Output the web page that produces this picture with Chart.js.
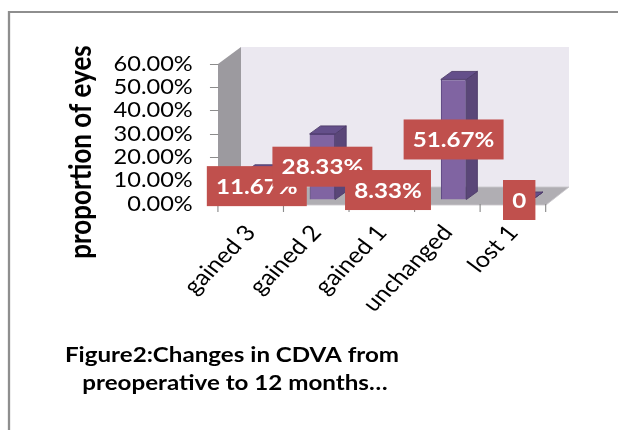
<!DOCTYPE html>
<html>
<head>
<meta charset="utf-8">
<style>
  html, body { margin: 0; padding: 0; background: #ffffff; }
  canvas { display: block; }
</style>
<script src="https://cdn.jsdelivr.net/npm/chart.js@4/dist/chart.umd.min.js"></script>
</head>
<body>
<canvas id="c" width="618" height="430" style="width:618px;height:430px"></canvas>
<script>
// ---- data ----
const categories = ['gained 3', 'gained 2', 'gained 1', 'unchanged', 'lost 1'];
const proportions = [11.67, 28.33, 8.33, 51.67, 0];
const yTickLabels = ['0.00%', '10.00%', '20.00%', '30.00%', '40.00%', '50.00%', '60.00%'];
const yAxisTitle = 'proportion of eyes';
const figureTitle = ['Figure2:Changes in CDVA from', ' preoperative to 12 months\u2026'];

// ---- styling / geometry (final pixels are divided by S for x) ----
const S = 1.15;                       // horizontal stretch of the whole picture
const BAR_SHIFT = { x: 6 / S, y: -4 }; // bars sit a bit inside the 3D box
const BAR_DEPTH = { x: 11 / S, y: -8 };
const WALL_DEPTH = { x: 23 / S, y: -17 };
const LABEL_PAD = 8;
const LABEL_H = 40;
const FONT = 'Lato, "Open Sans", sans-serif';

function poly(ctx, pts, fill, stroke) {
  ctx.beginPath();
  ctx.moveTo(pts[0][0], pts[0][1]);
  for (let i = 1; i < pts.length; i++) ctx.lineTo(pts[i][0], pts[i][1]);
  ctx.closePath();
  ctx.fillStyle = fill;
  ctx.fill();
  if (stroke) { ctx.strokeStyle = stroke; ctx.lineWidth = 0.8; ctx.stroke(); }
}

function labelFor(v) { return v === 0 ? '0' : v.toFixed(2) + '%'; }

const excel3d = {
  id: 'excel3d',
  beforeDraw(chart) {
    const ctx = chart.ctx;
    ctx.save();
    ctx.scale(S, 1);
    ctx.fillStyle = '#ffffff';
    ctx.fillRect(0, 0, chart.width, chart.height);
    // outer frame
    ctx.strokeStyle = '#8e8e8e';
    ctx.lineWidth = 2;
    ctx.beginPath();
    ctx.moveTo(9 / S, 440);
    ctx.lineTo(9 / S, 12);
    ctx.lineTo(chart.width, 12);
    ctx.stroke();
    // walls and floor
    const a = chart.chartArea, ys = chart.scales.y;
    const L = a.left, R = a.right;
    const T = ys.getPixelForValue(ys.max), B = ys.getPixelForValue(0);
    const dx = WALL_DEPTH.x, dy = WALL_DEPTH.y;
    poly(ctx, [[L + dx, T + dy], [R + dx, T + dy], [R + dx, B + dy], [L + dx, B + dy]], '#ebe8f0');
    poly(ctx, [[L, T], [L + dx, T + dy], [L + dx, B + dy], [L, B]], '#9c9a9f');
    poly(ctx, [[L, B + 1], [L + dx, B + dy], [R + dx, B + dy], [R, B + 1]], '#b0aeb3', '#c9c7cc');
  },
  beforeDatasetsDraw(chart) {
    const ctx = chart.ctx;
    ctx.save();
    ctx.translate(BAR_SHIFT.x, BAR_SHIFT.y);
  },
  afterDatasetsDraw(chart) {
    const ctx = chart.ctx;
    const meta = chart.getDatasetMeta(0);
    const dx = BAR_DEPTH.x, dy = BAR_DEPTH.y;
    meta.data.forEach(bar => {
      const p = bar.getProps(['x', 'y', 'base', 'width'], true);
      const l = p.x - p.width / 2, r = p.x + p.width / 2;
      poly(ctx, [[r, p.y], [r + dx, p.y + dy], [r + dx, p.base + dy], [r, p.base]], '#5a4678', '#4a3966');
      poly(ctx, [[l, p.y], [l + dx, p.y + dy], [r + dx, p.y + dy], [r, p.y]], '#644f8a', '#4a3966');
    });
    ctx.restore();
  },
  afterDraw(chart) {
    const ctx = chart.ctx;
    const meta = chart.getDatasetMeta(0);
    // data labels
    ctx.font = 'bold 21px ' + FONT;
    ctx.textAlign = 'center';
    ctx.textBaseline = 'middle';
    meta.data.forEach((bar, i) => {
      const p = bar.getProps(['x', 'y', 'base'], true);
      const cx = p.x + BAR_SHIFT.x;
      const cy = (p.y + p.base) / 2 + BAR_SHIFT.y;
      const txt = labelFor(proportions[i]);
      const w = ctx.measureText(txt).width + 2 * LABEL_PAD;
      ctx.fillStyle = '#c0504d';
      ctx.fillRect(cx - w / 2, cy - LABEL_H / 2, w, LABEL_H);
      ctx.fillStyle = '#ffffff';
      ctx.fillText(txt, cx, cy + 1);
    });
    // y axis title
    ctx.save();
    ctx.translate(81 / S, 152);
    ctx.rotate(-Math.PI / 2);
    ctx.font = 'bold 26px ' + FONT;
    ctx.fillStyle = '#000000';
    ctx.fillText(yAxisTitle, 0, 0);
    ctx.restore();
    // figure caption
    ctx.font = 'bold 21px ' + FONT;
    ctx.fillStyle = '#000000';
    ctx.fillText(figureTitle[0], 232 / S, 355);
    ctx.fillText(figureTitle[1], 232 / S, 383);
    ctx.restore();
  }
};

new Chart(document.getElementById('c'), {
  type: 'bar',
  data: {
    labels: categories,
    datasets: [{
      data: proportions,
      backgroundColor: '#8064a2',
      borderColor: '#5b4781',
      borderWidth: 1,
      barPercentage: 0.39,
      categoryPercentage: 1,
      clip: false
    }]
  },
  options: {
    responsive: false,
    animation: false,
    devicePixelRatio: 1,
    layout: { padding: { left: 0, top: 64, right: 618 - 546 / S, bottom: 0 } },
    plugins: { legend: { display: false }, tooltip: { enabled: false }, title: { display: false } },
    scales: {
      x: {
        offset: true,
        afterFit(s) { s.height = 430 - 204; },
        grid: { offset: true, drawOnChartArea: false, drawTicks: true, tickLength: 8, color: '#8c8c8c' },
        border: { display: false },
        ticks: {
          minRotation: 49, maxRotation: 49, padding: 8, autoSkip: false,
          color: '#000000', font: { family: FONT, size: 22 }
        }
      },
      y: {
        min: 0, max: 60,
        afterFit(s) { s.width = 218 / S; },
        grid: { drawOnChartArea: false, drawTicks: true, tickLength: 7, color: '#8c8c8c' },
        border: { display: false },
        ticks: {
          stepSize: 10, padding: 15, autoSkip: false,
          color: '#000000', font: { family: FONT, size: 20.5 },
          callback: (v, i) => yTickLabels[i]
        }
      }
    }
  },
  plugins: [excel3d]
});
</script>
</body>
</html>
